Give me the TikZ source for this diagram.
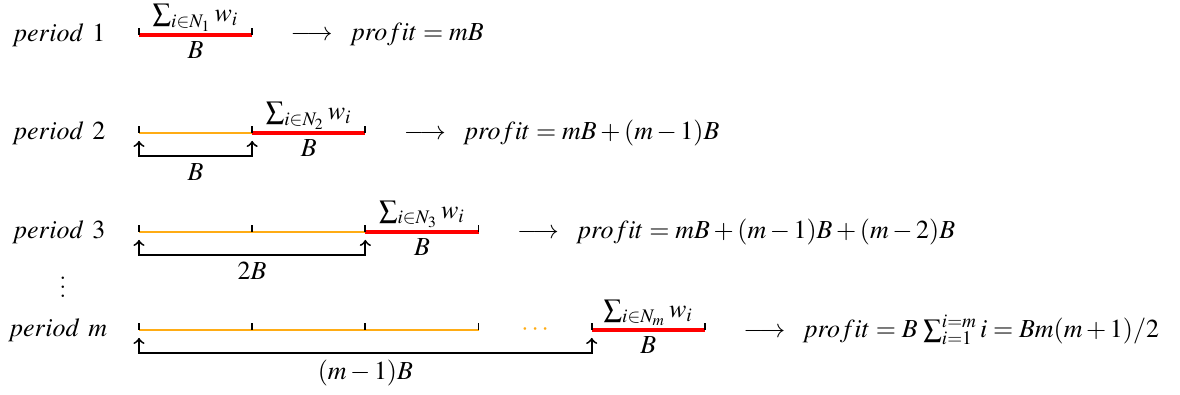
\documentclass[tikz,border=0pt]{standalone}
\usepackage{mathptmx}
\usepackage{tikz}
\usetikzlibrary{arrows, positioning, calc}

\definecolor{paidorange}{RGB}{255,172,20}
\definecolor{nowred}{RGB}{255,0,0}

\tikzset{
    tickmark/.style={black, line width=0.8pt},
    paid/.style={paidorange, line width=0.7pt},
    current/.style={nowred, line width=1.5pt},
    bracket/.style={<->, black, line width=0.8pt},
    lbl/.style={inner sep=1.5pt}
}

\begin{document}
\begin{tikzpicture}[font=\fontsize{11.2}{13}\selectfont]
        % Define dimensions
        \def\w{1.715} % width of a block
        \def\xs{2.106} % start of the time line
        \def\t{0.11} % height of a tick
        \def\ym{-5.0} % row of period m

        \useasboundingbox (0,0) rectangle (17.88,-5.97);

        \foreach \i/\y/\len/\prof in {1/-0.53//{mB},
                                      2/-2.015/B/{mB + (m-1)B},
                                      3/-3.515/2B/{mB + (m-1)B + (m-2)B}} {
            \pgfmathtruncatemacro{\k}{\i-1}
            % Draw the row label
            \node[anchor=west] (p\i) at (0.06,\y) {$period$ $\i$};

            % Points of the time line
            \foreach \j in {0,...,\i} {
                \coordinate (c\i-\j) at (\xs+\j*\w,\y);
            }

            % Earlier periods and the bracket under them
            \ifnum\k>0
                \draw[paid] (c\i-0) -- (c\i-\k);
                \draw[bracket] ($(c\i-0)+(0,-0.12)$) -- ++(0,-0.23) -| ($(c\i-\k)+(0,-0.12)$);
                \node[lbl, below] (l\i) at ($(c\i-0)!0.5!(c\i-\k)+(0,-0.4)$) {$\len$};
            \fi

            % Current period
            \draw[current] (c\i-\k) -- (c\i-\i);
            \node[lbl, above] (s\i) at ($(c\i-\k)!0.5!(c\i-\i)$) {$\sum_{i\in N_\i} w_i$};
            \node[lbl, below] (b\i) at ($(c\i-\k)!0.5!(c\i-\i)+(0,-0.04)$) {$B$};

            % Draw ticks
            \foreach \j in {0,...,\i} {
                \draw[tickmark] (c\i-\j) -- ++(0,\t);
            }

            % Profit
            \node[anchor=west] (r\i) at ($(c\i-\i)+(0.46,0)$) {$\longrightarrow\;\; profit = \prof$};
        }

        % Dots between the rows
        \node (vd) at (0.955,-4.25) {$\vdots$};

        % Period m
        \node[anchor=west] (pm) at (0.0,\ym) {$period$ $m$};
        \foreach \j in {0,...,5} {
            \coordinate (cm-\j) at (\xs+\j*\w,\ym);
        }
        \draw[paid] (cm-0) -- (cm-3);
        \node[paidorange, inner sep=0pt] (dm) at ($(cm-3)!0.5!(cm-4)+(0,0.01)$) {$\cdots$};
        \draw[bracket] ($(cm-0)+(0,-0.12)$) -- ++(0,-0.23) -| ($(cm-4)+(0,-0.12)$);
        \node[lbl, below] (lm) at ($(cm-0)!0.5!(cm-4)+(0,-0.4)$) {$(m-1)B$};
        \draw[current] (cm-4) -- (cm-5);
        \node[lbl, above] (sm) at ($(cm-4)!0.5!(cm-5)$) {$\sum_{i\in N_m} w_i$};
        \node[lbl, below] (bm) at ($(cm-4)!0.5!(cm-5)+(0,-0.04)$) {$B$};
        \foreach \j in {0,...,5} {
            \draw[tickmark] (cm-\j) -- ++(0,\t);
        }
        \node[anchor=west] (rm) at ($(cm-5)+(0.46,0)$) {$\longrightarrow\;\; profit = B\,\sum_{i=1}^{i=m} i = Bm(m+1)/2$};
    \end{tikzpicture}
\end{document}
